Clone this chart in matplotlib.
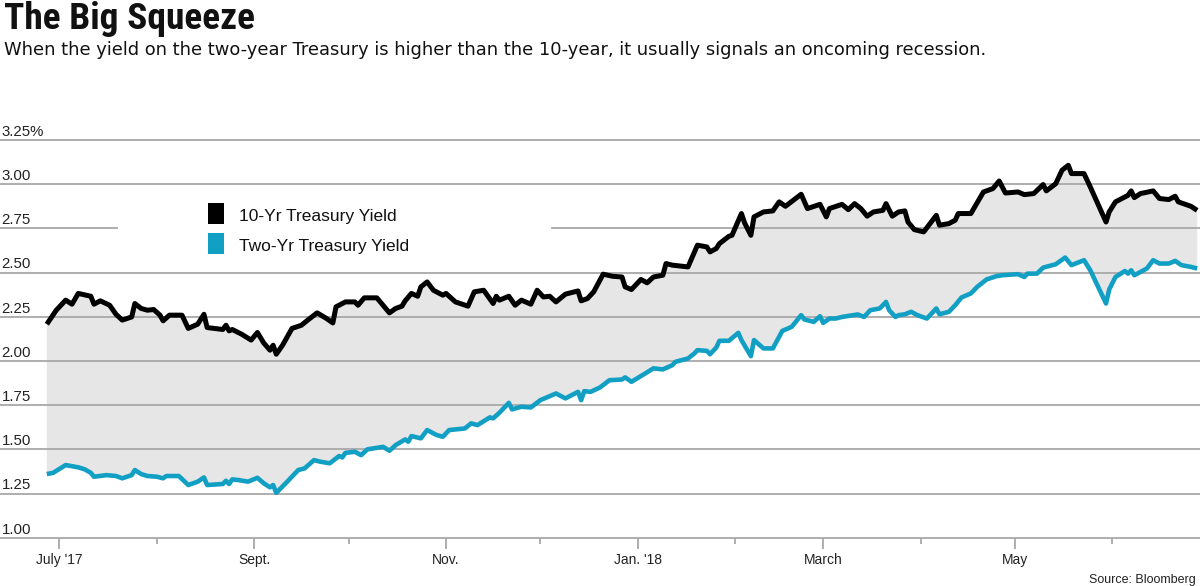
"""
plot.py - "The Big Squeeze": 10-year vs two-year Treasury yield, mid-2017 to mid-2018.
Saves out.png (1200x586).
"""

import matplotlib
matplotlib.use("Agg")  # no window, just the PNG
import matplotlib.pyplot as plt
import matplotlib.dates as mdates
from matplotlib import font_manager
from matplotlib.patches import Rectangle
import numpy as np
import pandas as pd

plt.rcParams["font.family"] = ["Liberation Sans", "DejaVu Sans"]

TITLE = "The Big Squeeze"
SUBTITLE = ("When the yield on the two-year Treasury is higher than the 10-year, "
            "it usually signals an oncoming recession.")
SOURCE = "Source: Bloomberg"
LEGEND = ["10-Yr Treasury Yield", "Two-Yr Treasury Yield"]

Y_TICKS = [1.00, 1.25, 1.50, 1.75, 2.00, 2.25, 2.50, 2.75, 3.00, 3.25]
Y_LABELS = ["1.00", "1.25", "1.50", "1.75", "2.00", "2.25", "2.50", "2.75", "3.00", "3.25%"]

MONTHS_LABELED = ["2017-07-01", "2017-09-01", "2017-11-01", "2018-01-01", "2018-03-01", "2018-05-01"]
MONTH_LABELS = ["July '17", "Sept.", "Nov.", "Jan. '18", "March", "May"]
MONTHS_PLAIN = ["2017-08-01", "2017-10-01", "2017-12-01", "2018-02-01", "2018-04-01", "2018-06-01"]

# 10-year yield
TEN_DATES = [
    "2017-06-27", "2017-06-30", "2017-07-03", "2017-07-05", "2017-07-07", "2017-07-11",
    "2017-07-12", "2017-07-14", "2017-07-17", "2017-07-19", "2017-07-21", "2017-07-24",
    "2017-07-25", "2017-07-27", "2017-07-29", "2017-07-31", "2017-08-02", "2017-08-03",
    "2017-08-05", "2017-08-09", "2017-08-11", "2017-08-14", "2017-08-16", "2017-08-17",
    "2017-08-22", "2017-08-23", "2017-08-24", "2017-08-25", "2017-08-28", "2017-08-31",
    "2017-09-02", "2017-09-04", "2017-09-06", "2017-09-07", "2017-09-08", "2017-09-10",
    "2017-09-13", "2017-09-16", "2017-09-18", "2017-09-21", "2017-09-24", "2017-09-26",
    "2017-09-27", "2017-09-30", "2017-10-03", "2017-10-04", "2017-10-06", "2017-10-10",
    "2017-10-14", "2017-10-16", "2017-10-18", "2017-10-19", "2017-10-21", "2017-10-23",
    "2017-10-24", "2017-10-26", "2017-10-28", "2017-10-31", "2017-11-01", "2017-11-04",
    "2017-11-08", "2017-11-10", "2017-11-13", "2017-11-16", "2017-11-17", "2017-11-18",
    "2017-11-21", "2017-11-23", "2017-11-25", "2017-11-28", "2017-11-30", "2017-12-02",
    "2017-12-04", "2017-12-06", "2017-12-09", "2017-12-13", "2017-12-14", "2017-12-16",
    "2017-12-18", "2017-12-21", "2017-12-24", "2017-12-27", "2017-12-28", "2017-12-30",
    "2018-01-02", "2018-01-04", "2018-01-06", "2018-01-09", "2018-01-10", "2018-01-12",
    "2018-01-17", "2018-01-20", "2018-01-23", "2018-01-24", "2018-01-26", "2018-01-27",
    "2018-01-30", "2018-01-31", "2018-02-03", "2018-02-04", "2018-02-06", "2018-02-07",
    "2018-02-10", "2018-02-13", "2018-02-15", "2018-02-17", "2018-02-22", "2018-02-24",
    "2018-02-28", "2018-03-02", "2018-03-03", "2018-03-07", "2018-03-09", "2018-03-11",
    "2018-03-13", "2018-03-15", "2018-03-17", "2018-03-20", "2018-03-21", "2018-03-23",
    "2018-03-25", "2018-03-27", "2018-03-28", "2018-03-30", "2018-04-02", "2018-04-06",
    "2018-04-07", "2018-04-10", "2018-04-12", "2018-04-13", "2018-04-17", "2018-04-21",
    "2018-04-24", "2018-04-26", "2018-04-28", "2018-05-02", "2018-05-04", "2018-05-07",
    "2018-05-10", "2018-05-11", "2018-05-14", "2018-05-16", "2018-05-18", "2018-05-19",
    "2018-05-23", "2018-05-25", "2018-05-30", "2018-05-31", "2018-06-02", "2018-06-06",
    "2018-06-07", "2018-06-08", "2018-06-10", "2018-06-14", "2018-06-16", "2018-06-19",
    "2018-06-21", "2018-06-22", "2018-06-26", "2018-06-28",
]
TEN_YIELD = [
    2.208, 2.287, 2.344, 2.321, 2.382, 2.366,
    2.321, 2.340, 2.315, 2.264, 2.231, 2.249,
    2.325, 2.297, 2.287, 2.291, 2.259, 2.227,
    2.259, 2.259, 2.184, 2.208, 2.264, 2.189,
    2.178, 2.202, 2.170, 2.178, 2.151, 2.118,
    2.161, 2.102, 2.061, 2.089, 2.038, 2.089,
    2.184, 2.202, 2.231, 2.272, 2.240, 2.215,
    2.306, 2.334, 2.334, 2.315, 2.357, 2.357,
    2.272, 2.297, 2.310, 2.340, 2.382, 2.366,
    2.419, 2.447, 2.400, 2.372, 2.382, 2.334,
    2.310, 2.391, 2.400, 2.325, 2.366, 2.344,
    2.366, 2.315, 2.344, 2.321, 2.400, 2.362,
    2.366, 2.334, 2.378, 2.396, 2.340, 2.353,
    2.391, 2.491, 2.479, 2.475, 2.419, 2.404,
    2.461, 2.442, 2.475, 2.485, 2.551, 2.542,
    2.532, 2.655, 2.645, 2.617, 2.636, 2.664,
    2.705, 2.711, 2.834, 2.781, 2.711, 2.815,
    2.843, 2.849, 2.900, 2.875, 2.943, 2.862,
    2.886, 2.815, 2.862, 2.886, 2.856, 2.890,
    2.862, 2.819, 2.843, 2.852, 2.890, 2.819,
    2.843, 2.849, 2.786, 2.743, 2.730, 2.824,
    2.768, 2.777, 2.796, 2.834, 2.834, 2.956,
    2.975, 3.018, 2.950, 2.956, 2.941, 2.947,
    2.998, 2.962, 3.003, 3.079, 3.107, 3.060,
    3.060, 2.984, 2.786, 2.843, 2.900, 2.937,
    2.962, 2.924, 2.947, 2.962, 2.919, 2.913,
    2.932, 2.900, 2.875, 2.852,
]

# two-year yield
TWO_DATES = [
    "2017-06-27", "2017-06-29", "2017-07-03", "2017-07-07", "2017-07-09", "2017-07-11",
    "2017-07-12", "2017-07-16", "2017-07-19", "2017-07-21", "2017-07-24", "2017-07-25",
    "2017-07-27", "2017-07-29", "2017-08-01", "2017-08-03", "2017-08-04", "2017-08-08",
    "2017-08-11", "2017-08-14", "2017-08-16", "2017-08-17", "2017-08-22", "2017-08-23",
    "2017-08-24", "2017-08-25", "2017-08-27", "2017-08-30", "2017-09-02", "2017-09-04",
    "2017-09-06", "2017-09-07", "2017-09-08", "2017-09-11", "2017-09-15", "2017-09-17",
    "2017-09-20", "2017-09-22", "2017-09-25", "2017-09-28", "2017-09-29", "2017-09-30",
    "2017-10-03", "2017-10-05", "2017-10-07", "2017-10-12", "2017-10-14", "2017-10-16",
    "2017-10-19", "2017-10-20", "2017-10-21", "2017-10-24", "2017-10-26", "2017-10-29",
    "2017-10-31", "2017-11-02", "2017-11-07", "2017-11-09", "2017-11-11", "2017-11-15",
    "2017-11-16", "2017-11-18", "2017-11-21", "2017-11-22", "2017-11-25", "2017-11-28",
    "2017-12-01", "2017-12-06", "2017-12-09", "2017-12-13", "2017-12-14", "2017-12-15",
    "2017-12-17", "2017-12-20", "2017-12-23", "2017-12-27", "2017-12-28", "2017-12-30",
    "2018-01-03", "2018-01-06", "2018-01-09", "2018-01-12", "2018-01-13", "2018-01-17",
    "2018-01-19", "2018-01-20", "2018-01-23", "2018-01-24", "2018-01-26", "2018-01-27",
    "2018-01-30", "2018-02-02", "2018-02-03", "2018-02-06", "2018-02-07", "2018-02-10",
    "2018-02-13", "2018-02-16", "2018-02-19", "2018-02-22", "2018-02-23", "2018-02-26",
    "2018-02-28", "2018-03-01", "2018-03-03", "2018-03-05", "2018-03-07", "2018-03-12",
    "2018-03-14", "2018-03-16", "2018-03-19", "2018-03-21", "2018-03-22", "2018-03-24",
    "2018-03-25", "2018-03-27", "2018-03-29", "2018-03-31", "2018-04-03", "2018-04-06",
    "2018-04-07", "2018-04-10", "2018-04-12", "2018-04-14", "2018-04-17", "2018-04-19",
    "2018-04-22", "2018-04-25", "2018-04-27", "2018-05-02", "2018-05-04", "2018-05-05",
    "2018-05-08", "2018-05-10", "2018-05-14", "2018-05-17", "2018-05-19", "2018-05-23",
    "2018-05-25", "2018-05-30", "2018-05-31", "2018-06-02", "2018-06-05", "2018-06-06",
    "2018-06-07", "2018-06-08", "2018-06-12", "2018-06-14", "2018-06-16", "2018-06-19",
    "2018-06-21", "2018-06-23", "2018-06-26", "2018-06-28",
]
TWO_YIELD = [
    1.360, 1.367, 1.411, 1.398, 1.387, 1.367,
    1.345, 1.354, 1.349, 1.336, 1.354, 1.383,
    1.360, 1.349, 1.345, 1.336, 1.349, 1.349,
    1.298, 1.317, 1.341, 1.298, 1.304, 1.322,
    1.304, 1.330, 1.326, 1.317, 1.339, 1.308,
    1.285, 1.298, 1.254, 1.308, 1.383, 1.392,
    1.439, 1.430, 1.421, 1.462, 1.454, 1.480,
    1.486, 1.467, 1.500, 1.514, 1.492, 1.524,
    1.556, 1.543, 1.575, 1.562, 1.609, 1.581,
    1.571, 1.609, 1.618, 1.647, 1.637, 1.681,
    1.675, 1.707, 1.763, 1.726, 1.741, 1.737,
    1.778, 1.816, 1.788, 1.825, 1.778, 1.829,
    1.825, 1.850, 1.891, 1.895, 1.907, 1.882,
    1.925, 1.958, 1.952, 1.976, 1.995, 2.014,
    2.042, 2.061, 2.057, 2.038, 2.076, 2.114,
    2.114, 2.159, 2.118, 2.027, 2.118, 2.071,
    2.071, 2.170, 2.193, 2.259, 2.235, 2.221,
    2.253, 2.215, 2.240, 2.240, 2.249, 2.263,
    2.249, 2.287, 2.297, 2.334, 2.287, 2.249,
    2.259, 2.264, 2.278, 2.259, 2.240, 2.297,
    2.264, 2.278, 2.315, 2.359, 2.382, 2.419,
    2.461, 2.479, 2.485, 2.491, 2.475, 2.494,
    2.494, 2.528, 2.547, 2.585, 2.542, 2.570,
    2.513, 2.325, 2.404, 2.475, 2.509, 2.494,
    2.513, 2.485, 2.523, 2.570, 2.551, 2.551,
    2.566, 2.542, 2.532, 2.523,
]

BLACK, CYAN, FILL, GRID = "#000000", "#129fc4", "#e6e6e6", "#a8a8a8"
W, H = 1200, 586  # figure size in pixels


def fx(px):
    return px / W


def fy(py):
    """Figure fraction from a pixel row counted from the top."""
    return 1 - py / H


def title_font():
    """Heavy condensed face for the headline, whatever is installed."""
    wanted = ["LiberationSansNarrow-Bold.", "RobotoCondensed-Black", "RobotoCondensed-Bold",
              "DejaVuSansCondensed-Bold.", "Roboto-Black.", "Roboto-Bold.",
              "LiberationSans-Bold."]
    files = [f.fname for f in font_manager.fontManager.ttflist]
    for w in wanted:
        for f in files:
            if w in f.split("/")[-1]:
                return font_manager.FontProperties(fname=f)
    return font_manager.FontProperties(family="DejaVu Sans", weight="bold")


def fit_width(fig, txt, px):
    """Scale a text's font size so it spans px pixels."""
    fig.canvas.draw()
    w = txt.get_window_extent().width
    txt.set_fontsize(txt.get_fontsize() * px / w)


def main():
    ten_d = mdates.date2num(pd.to_datetime(TEN_DATES))
    two_d = mdates.date2num(pd.to_datetime(TWO_DATES))
    ten_y = np.array(TEN_YIELD)
    two_y = np.array(TWO_YIELD)

    fig = plt.figure(figsize=(W / 100, H / 100), dpi=100)
    ax = fig.add_axes([0, fy(537.7), 1, (537.7 - 140) / H])

    # axis spans from mid-June 2017 to end of June 2018
    jul1 = mdates.date2num(pd.Timestamp("2017-07-01"))
    ax.set_xlim(jul1 - 18.9, jul1 + 362.9)
    ax.set_ylim(Y_TICKS[0], Y_TICKS[-1])

    # gray band between the two series
    ax.fill(np.concatenate([ten_d, two_d[::-1]]),
            np.concatenate([ten_y, two_y[::-1]]),
            color=FILL, lw=0, zorder=1)

    # horizontal rules; the 2.75 one leaves room for the legend
    for v in Y_TICKS:
        if v == 2.75:
            ax.axhline(v, 0, fx(117), color=GRID, lw=1.3, zorder=2, clip_on=False)
            ax.axhline(v, fx(552), 1, color=GRID, lw=1.3, zorder=2, clip_on=False)
        else:
            ax.axhline(v, color=GRID, lw=1.3, zorder=2, clip_on=False)
    for v, lab in zip(Y_TICKS, Y_LABELS):
        ax.annotate(lab, xy=(0, v), xycoords=("axes fraction", "data"),
                    xytext=(1.2, 3), textcoords="offset points",
                    va="baseline", ha="left", fontsize=10.8, color="#222222")

    ax.plot(two_d, two_y, color=CYAN, lw=3.3, solid_joinstyle="round",
            solid_capstyle="butt", zorder=4, clip_on=False)
    ax.plot(ten_d, ten_y, color=BLACK, lw=3.6, solid_joinstyle="round",
            solid_capstyle="butt", zorder=5, clip_on=False)

    ax.set_xticks(mdates.date2num(pd.to_datetime(MONTHS_LABELED)))
    ax.set_xticklabels(MONTH_LABELS)
    ax.set_xticks(mdates.date2num(pd.to_datetime(MONTHS_PLAIN)), minor=True)
    ax.tick_params(axis="x", which="major", length=8, width=1.1, color="#999999",
                   pad=3, labelsize=10, labelcolor="#222222")
    ax.tick_params(axis="x", which="minor", length=4, width=1.1, color="#999999")
    ax.set_yticks([])
    for s in ax.spines.values():
        s.set_visible(False)
    ax.patch.set_alpha(0)

    # legend drawn by hand
    for i, (lab, col) in enumerate(zip(LEGEND, [BLACK, CYAN])):
        top = 203.3 + i * 30
        fig.add_artist(Rectangle((fx(207.7), fy(top + 21)), 16.6 / W, 21 / H,
                                 transform=fig.transFigure, color=col, lw=0))
        fig.text(fx(239), fy(top + 17.5), lab, fontsize=12.5, color="#111111",
                 va="baseline", ha="left")

    t = fig.text(fx(4), fy(29), TITLE, fontproperties=title_font(), fontsize=27,
                 va="baseline", color="#111111")
    fit_width(fig, t, 251)
    s = fig.text(fx(4), fy(55), SUBTITLE, fontsize=13, family="DejaVu Sans",
                 va="baseline", color="#111111")
    fit_width(fig, s, 981)
    fig.text(fx(1196), fy(583), SOURCE, fontsize=9, ha="right", va="baseline",
             color="#222222")

    fig.savefig("out.png", dpi=100)
    plt.close(fig)


if __name__ == "__main__":
    main()
